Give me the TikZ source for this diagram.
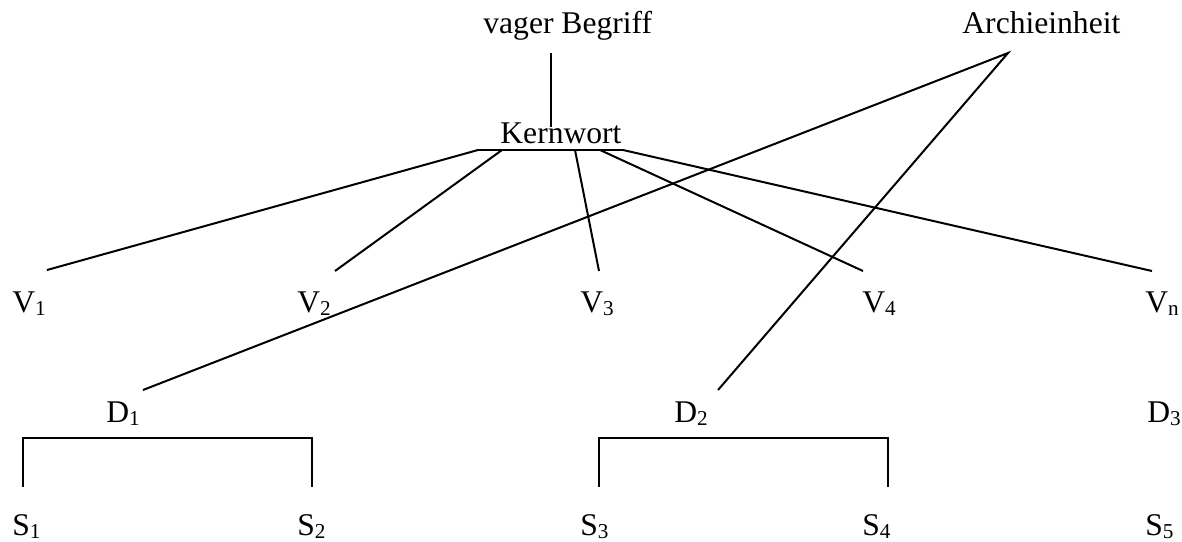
\documentclass[tikz,border=0pt]{standalone}
\usepackage{fontspec}
\setmainfont{Liberation Serif}
\newcommand{\lowsub}[1]{\raisebox{-1.5pt}{\fontsize{10.6}{12}\selectfont #1}}
\tikzset{
  lbl/.style={anchor=base west, inner sep=0pt, font=\fontsize{15.8}{18}\selectfont},
  conn/.style={line width=1pt, line cap=butt}
}
\begin{document}
\begin{tikzpicture}[x=0.5pt, y=-0.5pt]
\useasboundingbox (0,0) rectangle (1182,541);
% text nodes
\node[lbl] (vager) at (483,33) {vager Begriff};
\node[lbl] (archi) at (962,33) {Archieinheit};
\node[lbl] (kern) at (500,143) {Kernwort};
\node[lbl] (v1) at (12,312) {V\lowsub{1}};
\node[lbl] (v2) at (297,312) {V\lowsub{2}};
\node[lbl] (v3) at (580,312) {V\lowsub{3}};
\node[lbl] (v4) at (862,312) {V\lowsub{4}};
\node[lbl] (vn) at (1145,312) {V\lowsub{n}};
\node[lbl] (d1) at (106,422) {D\lowsub{1}};
\node[lbl] (d2) at (674,422) {D\lowsub{2}};
\node[lbl] (d3) at (1147,422) {D\lowsub{3}};
\node[lbl] (s1) at (12,535) {S\lowsub{1}};
\node[lbl] (s2) at (297,535) {S\lowsub{2}};
\node[lbl] (s3) at (580,535) {S\lowsub{3}};
\node[lbl] (s4) at (862,535) {S\lowsub{4}};
\node[lbl] (s5) at (1145,535) {S\lowsub{5}};
% connector end points
\coordinate (vagerB) at (551,53);
\coordinate (kernT) at (551,127);
\coordinate (barL) at (478,150);
\coordinate (barR) at (623,150);
\coordinate (b2) at (502,150);
\coordinate (b3) at (575,150);
\coordinate (b4) at (600,150);
\coordinate (v1T) at (47,270);
\coordinate (v2T) at (335,271);
\coordinate (v3T) at (599,271);
\coordinate (v4T) at (863,271);
\coordinate (vnT) at (1152,271);
\coordinate (archiB) at (1008,53);
\coordinate (d1T) at (143,390);
\coordinate (d2T) at (718,390);
\coordinate (br1L) at (23,438);
\coordinate (br1R) at (312,438);
\coordinate (s1T) at (23,487);
\coordinate (s2T) at (312,487);
\coordinate (br2L) at (599,438);
\coordinate (br2R) at (888,438);
\coordinate (s3T) at (599,487);
\coordinate (s4T) at (888,487);
% connectors
\draw[conn] (vagerB) -- (kernT);
\draw[conn] (barL) -- (barR);
\draw[conn] (barL) -- (v1T);
\draw[conn] (b2) -- (v2T);
\draw[conn] (b3) -- (v3T);
\draw[conn] (b4) -- (v4T);
\draw[conn] (barR) -- (vnT);
\draw[conn] (d1T) -- (archiB) -- (d2T);
\draw[conn] (s1T) -- (br1L) -- (br1R) -- (s2T);
\draw[conn] (s3T) -- (br2L) -- (br2R) -- (s4T);
\end{tikzpicture}
\end{document}
